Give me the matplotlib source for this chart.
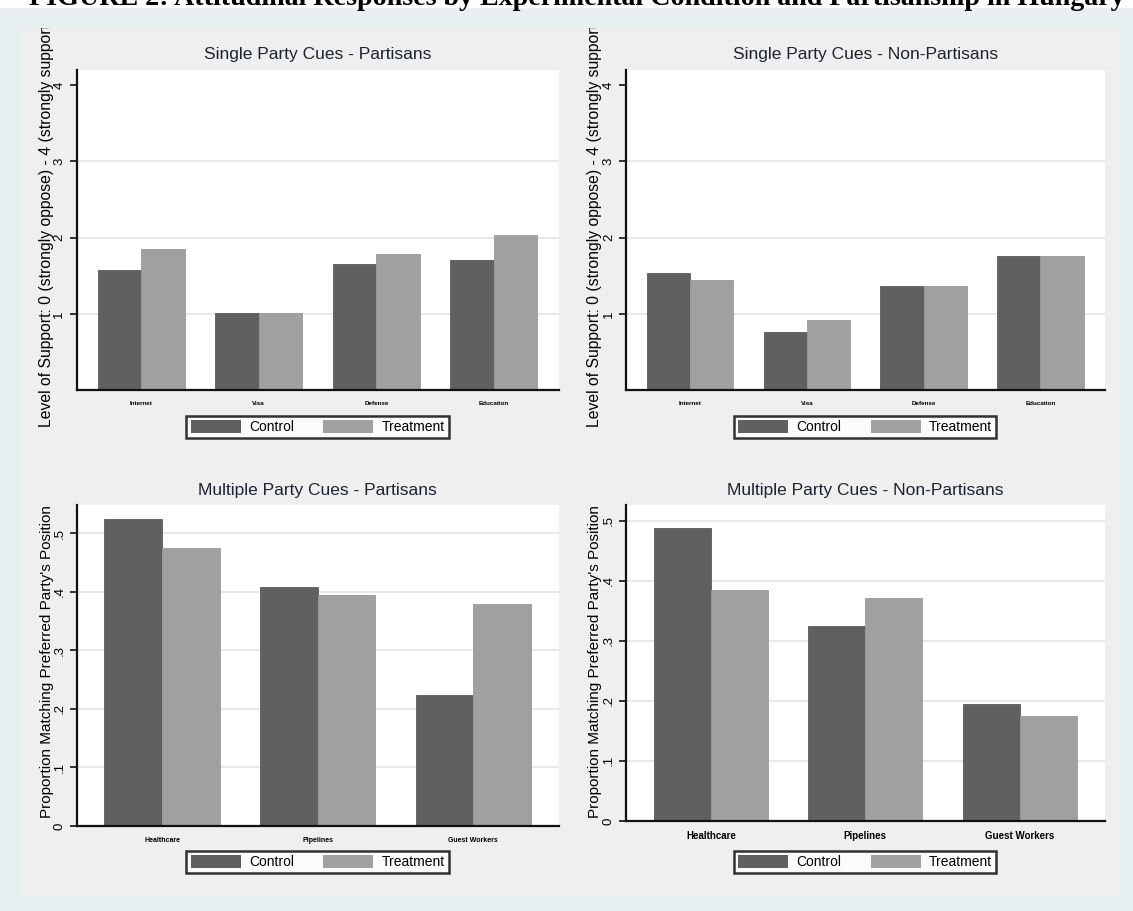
import matplotlib
matplotlib.use("Agg")
import matplotlib.pyplot as plt
from matplotlib.patches import Rectangle
from matplotlib.transforms import Bbox

W, H = 1133, 911
DPI = 100

plt.rcParams["font.family"] = ["Liberation Sans", "DejaVu Sans"]

# Issue categories
single_issues = ["Internet", "Visa", "Defense", "Education"]
multi_issues = ["Healthcare", "Pipelines", "Guest Workers"]

# Mean level of support (0-4), single party cues
single_partisan_control = [1.57, 1.01, 1.65, 1.71]
single_partisan_treatment = [1.85, 1.01, 1.79, 2.04]
single_nonpartisan_control = [1.53, 0.76, 1.37, 1.76]
single_nonpartisan_treatment = [1.45, 0.92, 1.37, 1.76]

# Proportion matching preferred party's position, multiple party cues
multi_partisan_control = [0.524, 0.408, 0.223]
multi_partisan_treatment = [0.474, 0.394, 0.379]
multi_nonpartisan_control = [0.488, 0.325, 0.195]
multi_nonpartisan_treatment = [0.385, 0.371, 0.174]

single_ticks = [1, 2, 3, 4]
single_ticklabels = ["1", "2", "3", "4"]
multi_ticks = [0, 0.1, 0.2, 0.3, 0.4, 0.5]
multi_ticklabels = ["0", ".1", ".2", ".3", ".4", ".5"]

CONTROL = "#606060"
TREATMENT = "#a0a0a0"
GRID = "#e8e8e8"
PANEL_BG = "#efefef"
PAGE_BG = "#e8f0f2"
TITLE_COLOR = "#1c2433"
BAR_W = 0.37

SINGLE_YLABEL = "Level of Support: 0 (strongly oppose) - 4 (strongly support)"
MULTI_YLABEL = "Proportion Matching Preferred Party's Position"


def px_axes(fig, left, top, right, bottom):
    """Add an axes given its edges in pixels measured from the top-left."""
    return fig.add_axes([left / W, 1 - bottom / H,
                         (right - left) / W, (bottom - top) / H])


def draw_panel(fig, box, cats, control, treatment, ylim, ticks, ticklabels,
               grid_ticks, title, cat_size, cat_pad, legend_y):
    left, top, right, bottom = box
    ax = px_axes(fig, left, top, right, bottom)
    ax.set_facecolor("white")
    x = range(len(cats))
    ax.bar([i - BAR_W / 2 for i in x], control, BAR_W, color=CONTROL,
           edgecolor="#5a5a5a", linewidth=0.6, zorder=3)
    ax.bar([i + BAR_W / 2 for i in x], treatment, BAR_W, color=TREATMENT,
           edgecolor="#9a9a9a", linewidth=0.6, zorder=3)
    for g in grid_ticks:
        ax.axhline(g, color=GRID, linewidth=1.4, zorder=1)
    ax.set_xlim(-0.55, len(cats) - 1 + 0.55)
    ax.set_ylim(*ylim)
    ax.set_yticks(ticks)
    ax.set_yticklabels(ticklabels, rotation=90, va="center", fontsize=9.5)
    ax.set_xticks(list(x))
    ax.set_xticklabels(cats, fontsize=cat_size, fontweight="bold")
    ax.tick_params(axis="x", length=0, pad=cat_pad)
    ax.tick_params(axis="y", length=5, width=1.2, pad=3, color="#111111")
    for side in ("top", "right"):
        ax.spines[side].set_visible(False)
    for side in ("left", "bottom"):
        ax.spines[side].set_linewidth(1.6)
        ax.spines[side].set_color("#111111")
        ax.spines[side].set_zorder(4)

    fig.text((left + right) / 2 / W, 1 - (top - 15) / H, title,
             ha="center", va="center", fontsize=12.5, color=TITLE_COLOR)

    handles = [Rectangle((0, 0), 1, 1, fc=CONTROL),
               Rectangle((0, 0), 1, 1, fc=TREATMENT)]
    leg = ax.legend(handles, ["Control", "Treatment"], ncol=2, loc="center",
                    bbox_to_anchor=((left + right) / 2 / W, 1 - legend_y / H),
                    bbox_transform=fig.transFigure, frameon=True,
                    fancybox=False, edgecolor="black", fontsize=10,
                    handlelength=3.6, handleheight=1.1, handletextpad=0.6,
                    columnspacing=2.1, borderpad=0.3, borderaxespad=0)
    leg.get_frame().set_linewidth(1.8)
    leg.get_frame().set_facecolor("white")
    return ax


fig = plt.figure(figsize=(W / DPI, H / DPI), dpi=DPI)
fig.patch.set_facecolor(PAGE_BG)

# white strip with the caption running off the top edge
fig.patches.append(Rectangle((0, 1 - 8 / H), 1, 8 / H, transform=fig.transFigure,
                             facecolor="white", edgecolor="none", zorder=-2))
fig.text(577 / W, 1 - 5 / H,
         "FIGURE 2: Attitudinal Responses by Experimental Condition and "
         "Partisanship in Hungary",
         ha="center", va="baseline", fontsize=20.2, fontweight="bold",
         family="Liberation Serif", color="black")

# grey graph region
fig.patches.append(Rectangle((22 / W, 1 - 896 / H), (1119 - 22) / W,
                             (896 - 28) / H, transform=fig.transFigure,
                             facecolor=PANEL_BG, edgecolor="none", zorder=-1))

draw_panel(fig, (76.5, 70, 558.6, 390), single_issues,
           single_partisan_control, single_partisan_treatment,
           (0, 4.2), single_ticks, single_ticklabels, [1, 2, 3],
           "Single Party Cues - Partisans", 4.5, 8, 427)
draw_panel(fig, (626, 70, 1104.6, 390), single_issues,
           single_nonpartisan_control, single_nonpartisan_treatment,
           (0, 4.2), single_ticks, single_ticklabels, [1, 2, 3],
           "Single Party Cues - Non-Partisans", 4.5, 8, 427)
draw_panel(fig, (76.5, 505, 558.6, 826), multi_issues,
           multi_partisan_control, multi_partisan_treatment,
           (0, 0.548), multi_ticks, multi_ticklabels,
           [0.1, 0.2, 0.3, 0.4, 0.5],
           "Multiple Party Cues - Partisans", 5, 8, 862)
draw_panel(fig, (626, 505, 1104.6, 821), multi_issues,
           multi_nonpartisan_control, multi_nonpartisan_treatment,
           (0, 0.526), multi_ticks, multi_ticklabels,
           [0.1, 0.2, 0.3, 0.4, 0.5],
           "Multiple Party Cues - Non-Partisans", 7, 7, 862)

# y-axis titles, clipped to the grey graph region
clip = Bbox.from_extents(22, H - 896, 1119, H - 28)
for xp in (47, 595):
    t = fig.text(xp / W, 1 - 427 / H, SINGLE_YLABEL, rotation=90,
                 ha="center", va="bottom", fontsize=11.3)
    t.set_clip_box(clip)
    t.set_clip_on(True)
    fig.text(xp / W, 1 - 662 / H, MULTI_YLABEL, rotation=90,
             ha="center", va="center", fontsize=11)

fig.savefig("out.png", dpi=DPI, facecolor=fig.get_facecolor())
